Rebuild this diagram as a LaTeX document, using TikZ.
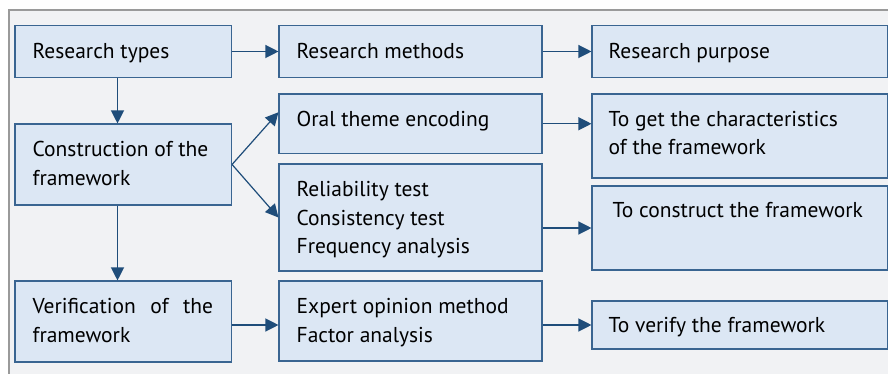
\documentclass[tikz,border=0pt]{standalone}
\usepackage{fontspec}
\setmainfont{PT Sans}
\usetikzlibrary{arrows.meta,calc}
\definecolor{bgc}{HTML}{F1F2F4}
\definecolor{boxfill}{HTML}{DCE7F4}
\definecolor{boxline}{HTML}{3A6591}
\definecolor{arrc}{HTML}{1F4D7A}
\definecolor{framec}{HTML}{9A9A9A}
\tikzset{
  box/.style={draw=boxline, fill=boxfill, line width=1.1pt, inner sep=0pt, rectangle},
  txt/.style={anchor=base west, inner sep=0pt, font=\fontsize{21.5}{28.5}\selectfont, text=black},
  arr/.style={draw=arrc, line width=1.2pt, -{Triangle[length=13pt,width=13pt]}},
}
\newcommand{\lines}[1]{\begin{tabular}[t]{@{}l@{}}#1\end{tabular}}
\begin{document}
\begin{tikzpicture}[x=1pt,y=-1pt]
\useasboundingbox (0,0) rectangle (888,374);
\fill[white] (0,0) rectangle (888,374);
\fill[bgc] (9,10) rectangle (890,380);
\draw[framec, line width=2pt] (9,380) -- (9,10) -- (890,10);
% boxes
\node[box, minimum width=216.5, minimum height=52] (rt) at (123.25,51.5) {};
\node[box, minimum width=216.5, minimum height=81] (con) at (123.25,164.5) {};
\node[box, minimum width=216.5, minimum height=81] (ver) at (123.25,321.5) {};
\node[box, minimum width=263, minimum height=52] (rm) at (410.5,51.5) {};
\node[box, minimum width=263, minimum height=59.5] (oral) at (410.5,123.75) {};
\node[box, minimum width=263, minimum height=107] (rel) at (410.5,217.5) {};
\node[box, minimum width=263, minimum height=80] (exp) at (410.5,321) {};
\node[box, minimum width=295.5, minimum height=52] (rp) at (739.75,51.5) {};
\node[box, minimum width=295.5, minimum height=84] (get) at (739.75,136) {};
\node[box, minimum width=295.5, minimum height=84] (cons) at (739.75,228) {};
\node[box, minimum width=295.5, minimum height=48] (vrf) at (739.75,325) {};
% texts
\node[txt] (trt) at ([shift={(18,33.5)}]rt.north west) {Research types};
\node[txt] (tcon) at ([shift={(18,33.5)}]con.north west) {\lines{Construction of the\\framework}};
\node[txt] (tver) at ([shift={(18,33.5)}]ver.north west) {\lines{\makebox[180.5pt][s]{Verification of the}\\framework}};
\node[txt] (trm) at ([shift={(18,33.5)}]rm.north west) {Research methods};
\node[txt] (toral) at ([shift={(18,33)}]oral.north west) {Oral theme encoding};
\node[txt] (trel) at ([shift={(18,33.5)}]rel.north west) {\lines{Reliability test\\Consistency test\\Frequency analysis}};
\node[txt] (texp) at ([shift={(18,33.5)}]exp.north west) {\lines{Expert opinion method\\Factor analysis}};
\node[txt] (trp) at ([shift={(17,33.5)}]rp.north west) {Research purpose};
\node[txt] (tget) at ([shift={(17,33)}]get.north west) {\lines{To get the characteristics\\of the framework}};
\node[txt] (tcons) at ([shift={(21,32)}]cons.north west) {To construct the framework};
\node[txt] (tvrf) at ([shift={(17,32)}]vrf.north west) {To verify the framework};
% connectors
\coordinate (cx) at (117.5,0);
\draw[arr] (rt) -- (rm);
\draw[arr] (rm) -- (rp);
\draw[arr] (rt.south -| cx) -- (con.north -| cx);
\draw[arr] (con.south -| cx) -- (ver.north -| cx);
\draw[arr] (con.east) -- ([yshift=11.5]oral.west);
\draw[arr] (con.east) -- (rel.west);
\draw[arr] (oral.east) -- (oral.east -| get.west);
\draw[arr] (rel.east |- cons.west) -- (cons.west);
\draw[arr] (ver.east |- vrf.west) -- (exp.west |- vrf.west);
\draw[arr] (exp.east |- vrf.west) -- (vrf.west);
\end{tikzpicture}
\end{document}
